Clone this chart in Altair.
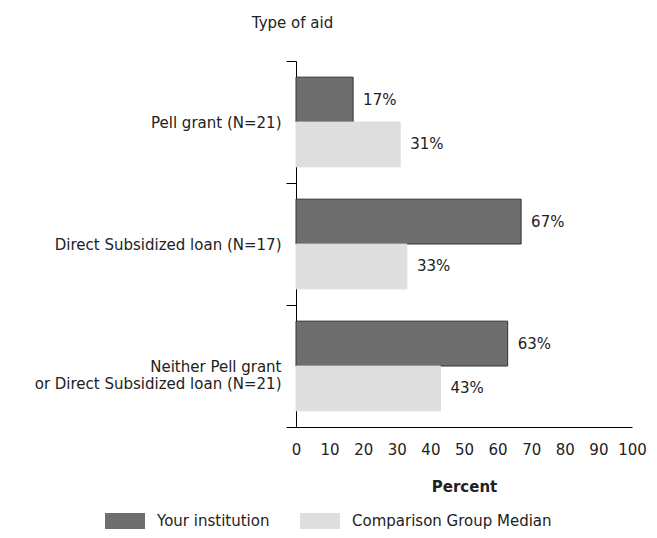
import altair as alt
import pandas as pd

categories = [
    "Pell grant  (N=21)",
    "Direct Subsidized loan (N=17)",
    "Neither Pell grant|or Direct Subsidized loan (N=21)",
]
series = ["Your institution", "Comparison Group Median"]
your_institution = [17, 67, 63]
comparison_median = [31, 33, 43]
x_ticks = [0, 10, 20, 30, 40, 50, 60, 70, 80, 90, 100]

rows = []
for c, a, b in zip(categories, your_institution, comparison_median):
    rows.append({"category": c, "series": series[0], "value": a, "label": f"{a}%"})
    rows.append({"category": c, "series": series[1], "value": b, "label": f"{b}%"})
df = pd.DataFrame(rows)

FONT = "DejaVu Sans"
FS = 15
TXT = "#222222"

y_enc = alt.Y(
    "category:N",
    sort=categories,
    scale=alt.Scale(paddingInner=0, paddingOuter=0),
    axis=alt.Axis(
        title="Type of aid",
        titleAngle=0,
        titleAlign="center",
        titleBaseline="alphabetic",
        titleX=-4,
        titleY=-34,
        titleFont=FONT,
        titleFontSize=FS,
        titleFontWeight="normal",
        titleColor=TXT,
        labelExpr="split(datum.label, '|')",
        labelFont=FONT,
        labelFontSize=FS,
        labelColor=TXT,
        labelLimit=400,
        labelPadding=5,
        labelLineHeight=17,
        tickBand="extent",
        tickSize=10,
        tickColor="#000000",
        domainColor="#000000",
        grid=False,
    ),
)
yoff = alt.YOffset(
    "series:N",
    sort=series,
    scale=alt.Scale(paddingOuter=0.36, paddingInner=0),
)
x_enc = alt.X(
    "value:Q",
    scale=alt.Scale(domain=[0, 100], nice=False),
    axis=alt.Axis(
        title="Percent",
        values=x_ticks,
        ticks=False,
        grid=False,
        labelOverlap=False,
        labelFlush=False,
        labelFont=FONT,
        labelFontSize=FS,
        labelColor=TXT,
        labelPadding=15,
        titleFont=FONT,
        titleFontSize=FS,
        titleFontWeight="bold",
        titleColor=TXT,
        titlePadding=22,
        domainColor="#000000",
    ),
)

bars = alt.Chart(df).mark_bar(strokeWidth=1).encode(
    y=y_enc,
    yOffset=yoff,
    x=x_enc,
    fill=alt.Fill(
        "series:N",
        sort=series,
        scale=alt.Scale(domain=series, range=["#6e6e6e", "#dedede"]),
        legend=alt.Legend(
            title=None,
            orient="none",
            direction="horizontal",
            legendX=-191,
            legendY=440,
            symbolType="M-1,-0.4L1,-0.4L1,0.4L-1,0.4Z",
            symbolSize=1600,
            symbolStrokeWidth=0,
            labelFont=FONT,
            labelFontSize=FS,
            labelColor=TXT,
            labelLimit=400,
            labelOffset=12,
            columnPadding=30,
        ),
    ),
    stroke=alt.Stroke(
        "series:N",
        sort=series,
        scale=alt.Scale(domain=series, range=["#333333", "#dedede"]),
        legend=None,
    ),
)

labels = alt.Chart(df).mark_text(
    align="left", baseline="middle", dx=10, font=FONT, fontSize=FS, color=TXT
).encode(
    y=y_enc,
    yOffset=yoff,
    x=x_enc,
    text="label:N",
)

chart = (
    alt.layer(bars, labels)
    .properties(
        width=336,
        height=366,
        autosize=alt.AutoSizeParams(type="none"),
        padding={"left": 288, "top": 53, "right": 17, "bottom": 103},
    )
    .configure_view(strokeWidth=0, stroke="transparent")
)

chart.save("out.html", embed_options={"renderer": "svg", "actions": False})
